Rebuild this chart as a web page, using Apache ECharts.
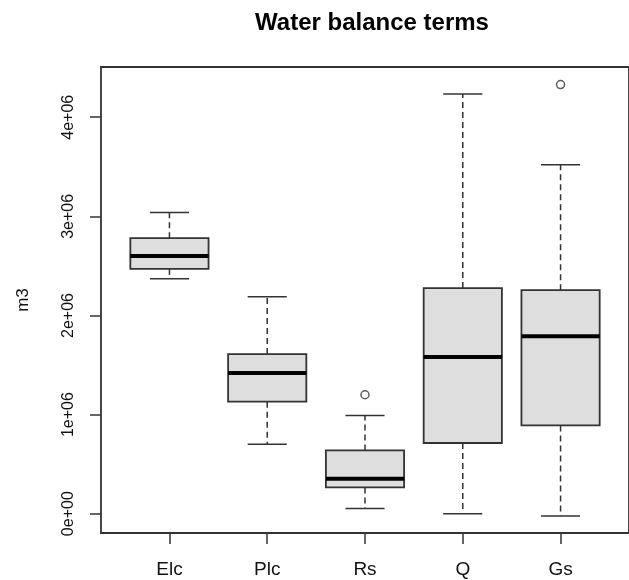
<!DOCTYPE html>
<html>
<head>
<meta charset="utf-8">
<script src="https://cdn.jsdelivr.net/npm/echarts@6/dist/echarts.min.js"></script>
<style>
  html, body { margin: 0; padding: 0; background: #fff; }
  #chart { width: 629px; height: 580px; }
</style>
</head>
<body>
<div id="chart"></div>
<script>
// Water balance terms, five-number summaries per term (m3)
const categories    = ['Elc', 'Plc', 'Rs', 'Q', 'Gs'];
const lowerWhisker  = [2.37e6, 0.70e6, 0.053e6, 0.000e6, -0.023e6];
const lowerQuartile = [2.47e6, 1.13e6, 0.265e6, 0.713e6, 0.890e6];
const medianValue   = [2.60e6, 1.42e6, 0.353e6, 1.580e6, 1.790e6];
const upperQuartile = [2.78e6, 1.61e6, 0.638e6, 2.276e6, 2.255e6];
const upperWhisker  = [3.04e6, 2.19e6, 0.990e6, 4.235e6, 3.520e6];

// Points beyond the whiskers
const outlierCategory = ['Rs', 'Gs'];
const outlierValue    = [1.20e6, 4.33e6];

// Axis tick values
const yTicks = [0, 1e6, 2e6, 3e6, 4e6];

const ink = '#333';

// R-style scientific notation: 0e+00, 1e+06 ...
function sci(v) {
  if (v === 0) return '0e+00';
  const e = Math.floor(Math.log10(Math.abs(v)) + 1e-9);
  const m = Math.round(v / Math.pow(10, e) * 100) / 100;
  return m + 'e' + (e < 0 ? '-' : '+') + String(Math.abs(e)).padStart(2, '0');
}

const boxData = categories.map((c, i) => [
  i + 1, lowerWhisker[i], lowerQuartile[i], medianValue[i], upperQuartile[i], upperWhisker[i]
]);
const outlierData = outlierCategory.map((c, i) => [categories.indexOf(c) + 1, outlierValue[i]]);
const xPositions = categories.map((c, i) => i + 1);

function renderBox(params, api) {
  const x = api.value(0);
  const lo = api.coord([x, api.value(1)]);
  const q1 = api.coord([x, api.value(2)]);
  const md = api.coord([x, api.value(3)]);
  const q3 = api.coord([x, api.value(4)]);
  const hi = api.coord([x, api.value(5)]);
  const halfBox = api.size([0.4, 0])[0];
  const halfCap = api.size([0.2, 0])[0];
  const cx = lo[0];
  const dashed = { stroke: ink, lineWidth: 1.5, lineDash: [6, 4] };
  const solid = { stroke: ink, lineWidth: 1.5 };
  return {
    type: 'group',
    children: [
      { type: 'line', shape: { x1: cx, y1: q3[1], x2: cx, y2: hi[1] }, style: dashed },
      { type: 'line', shape: { x1: cx, y1: q1[1], x2: cx, y2: lo[1] }, style: dashed },
      { type: 'line', shape: { x1: cx - halfCap, y1: hi[1], x2: cx + halfCap, y2: hi[1] }, style: solid },
      { type: 'line', shape: { x1: cx - halfCap, y1: lo[1], x2: cx + halfCap, y2: lo[1] }, style: solid },
      {
        type: 'rect',
        shape: { x: cx - halfBox, y: q3[1], width: halfBox * 2, height: q1[1] - q3[1] },
        style: { fill: '#dedede', stroke: ink, lineWidth: 1.8 }
      },
      {
        type: 'line',
        shape: { x1: cx - halfBox, y1: md[1], x2: cx + halfBox, y2: md[1] },
        style: { stroke: '#000', lineWidth: 4 }
      }
    ]
  };
}

const chart = echarts.init(document.getElementById('chart'), null, { renderer: 'canvas' });
chart.setOption({
  animation: false,
  backgroundColor: '#fff',
  textStyle: { fontFamily: 'Liberation Sans, Arial, sans-serif' },
  title: {
    text: 'Water balance terms',
    left: 367,
    top: 6,
    textAlign: 'center',
    textStyle: { fontSize: 24, fontWeight: 'bold', color: '#000', fontFamily: 'Liberation Sans, Arial, sans-serif' }
  },
  grid: {
    left: 101, top: 67, width: 532, height: 466,
    show: true, borderColor: ink, borderWidth: 1.8, backgroundColor: 'transparent'
  },
  xAxis: {
    type: 'value',
    min: 0.3, max: 5.7,
    axisLine: { show: false, onZero: false },
    splitLine: { show: false },
    axisTick: { show: true, length: 11, customValues: xPositions, lineStyle: { color: ink, width: 1.5 } },
    axisLabel: {
      customValues: xPositions,
      formatter: v => categories[Math.round(v) - 1] || '',
      fontSize: 19, color: '#111', margin: 27
    }
  },
  yAxis: {
    type: 'value',
    min: -0.195e6, max: 4.507e6,
    name: 'm3',
    nameLocation: 'middle',
    nameGap: 69,
    nameRotate: 90,
    nameTextStyle: { fontSize: 17, color: '#111' },
    axisLine: { show: false, onZero: false },
    splitLine: { show: false },
    axisTick: { show: true, length: 11, customValues: yTicks, lineStyle: { color: ink, width: 1.5 } },
    axisLabel: {
      customValues: yTicks,
      formatter: sci,
      rotate: 90,
      fontSize: 16, color: '#111', margin: 24
    }
  },
  series: [
    {
      type: 'custom',
      renderItem: renderBox,
      data: boxData,
      encode: { x: 0, y: [1, 2, 3, 4, 5] },
      clip: false
    },
    {
      type: 'scatter',
      data: outlierData,
      symbol: 'circle',
      symbolSize: 8,
      itemStyle: { color: '#fff', borderColor: ink, borderWidth: 1.5 }
    }
  ]
});
</script>
</body>
</html>
